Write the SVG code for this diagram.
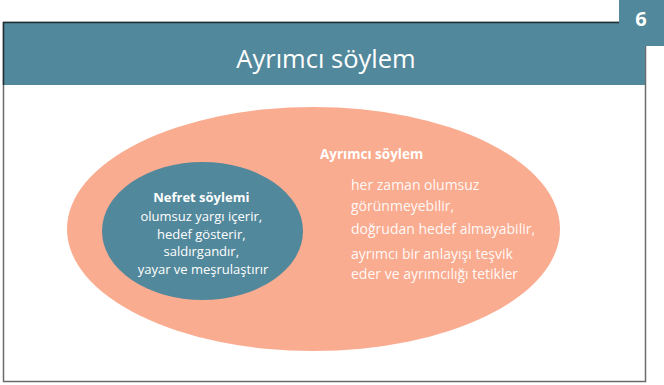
<svg xmlns="http://www.w3.org/2000/svg" width="664" height="385" viewBox="0 0 664 385">
<style>
.t{font-family:"Open Sans","Noto Sans",sans-serif;fill:#ffffff}
.b{font-weight:bold}
</style>
<rect x="0" y="0" width="664" height="385" fill="#ffffff"/>
<rect id="frame" x="3.5" y="22.5" width="642" height="359" fill="#ffffff" stroke="#6b6b6b" stroke-width="1.5"/>
<g id="header">
<rect x="3" y="22" width="642" height="63" fill="#52889b"/>
<line x1="3" y1="22.5" x2="619" y2="22.5" stroke="#1f2f35" stroke-width="1.5"/>
<line x1="3.5" y1="22" x2="3.5" y2="85" stroke="#1f2f35" stroke-width="1.5"/>
<text class="t" x="326" y="68" font-size="25.5" text-anchor="middle">Ayrımcı söylem</text>
</g>
<g id="badge">
<rect x="619" y="0" width="45" height="46" fill="#52889b"/>
<text class="t b" x="641" y="26" font-size="20" text-anchor="middle">6</text>
</g>
<g id="ayrimci">
<ellipse cx="313.5" cy="229" rx="246.5" ry="122" fill="#faac90"/>
<text class="t b" x="320" y="159" font-size="13.5">Ayrımcı söylem</text>
<text class="t" font-size="14" fill-opacity="0.95">
<tspan x="351" y="190">her zaman olumsuz</tspan>
<tspan x="351" y="211">görünmeyebilir,</tspan>
<tspan x="351" y="234">doğrudan hedef almayabilir,</tspan>
<tspan x="351" y="259">ayrımcı bir anlayışı teşvik</tspan>
<tspan x="351" y="279">eder ve ayrımcılığı tetikler</tspan>
</text>
</g>
<g id="nefret">
<ellipse cx="202.5" cy="231" rx="100.5" ry="69" fill="#52889b"/>
<text class="t" font-size="13" text-anchor="middle">
<tspan class="b" x="203" y="202">Nefret söylemi</tspan>
<tspan x="203" y="221">olumsuz yargı içerir,</tspan>
<tspan x="203" y="239">hedef gösterir,</tspan>
<tspan x="203" y="256">saldırgandır,</tspan>
<tspan x="203" y="274">yayar ve meşrulaştırır</tspan>
</text>
</g>
<g id="connectors"></g>
</svg>
